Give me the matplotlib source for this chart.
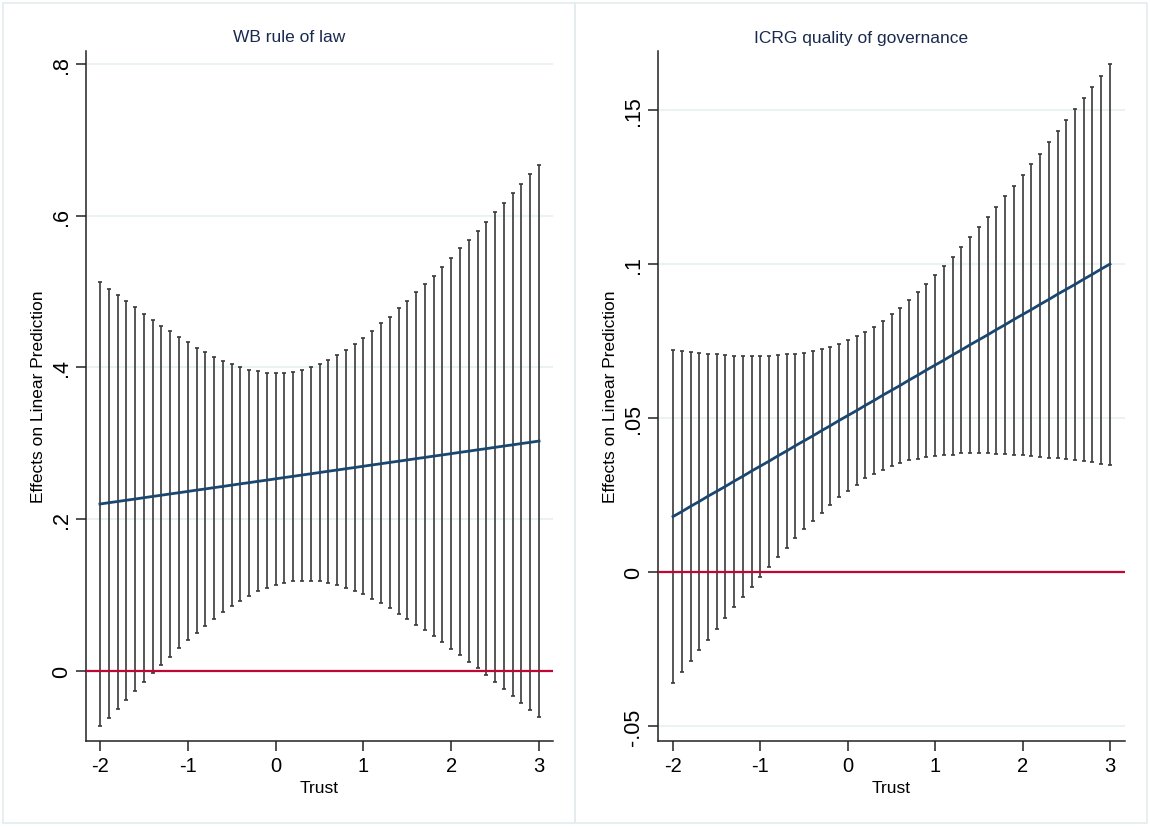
import numpy as np
import matplotlib
matplotlib.use("Agg")
from matplotlib import pyplot as plt
from matplotlib.patches import Rectangle

plt.rcParams['font.family'] = ['Liberation Sans', 'DejaVu Sans']

# trust values -2 .. 3 in steps of .1
trust = np.round(np.linspace(-2, 3, 51), 1)

# WB rule of law: point estimate and 95% CI
wb_est = [0.2200, 0.2217, 0.2233, 0.2250, 0.2266, 0.2283, 0.2300, 0.2316, 0.2333, 0.2349,
          0.2366, 0.2383, 0.2399, 0.2416, 0.2432, 0.2449, 0.2466, 0.2482, 0.2499, 0.2515,
          0.2532, 0.2549, 0.2565, 0.2582, 0.2598, 0.2615, 0.2632, 0.2648, 0.2665, 0.2681,
          0.2698, 0.2715, 0.2731, 0.2748, 0.2764, 0.2781, 0.2798, 0.2814, 0.2831, 0.2847,
          0.2864, 0.2881, 0.2897, 0.2914, 0.2930, 0.2947, 0.2964, 0.2980, 0.2997, 0.3013,
          0.3030]
wb_hi = [0.513, 0.504, 0.496, 0.487, 0.479, 0.471, 0.463, 0.455, 0.448, 0.440,
         0.433, 0.426, 0.420, 0.414, 0.409, 0.404, 0.400, 0.397, 0.395, 0.393,
         0.393, 0.393, 0.394, 0.397, 0.400, 0.405, 0.410, 0.416, 0.423, 0.431,
         0.439, 0.448, 0.458, 0.467, 0.478, 0.488, 0.499, 0.510, 0.521, 0.533,
         0.544, 0.557, 0.568, 0.580, 0.592, 0.605, 0.617, 0.630, 0.642, 0.655,
         0.667]
wb_lo = [-0.0730, -0.0615, -0.0497, -0.0378, -0.0260, -0.0145, -0.0026, 0.0083, 0.0189, 0.0299,
         0.0404, 0.0505, 0.0597, 0.0690, 0.0773, 0.0852, 0.0927, 0.0993, 0.1050, 0.1098,
         0.1138, 0.1164, 0.1182, 0.1190, 0.1190, 0.1182, 0.1164, 0.1138, 0.1098, 0.1058,
         0.1010, 0.0953, 0.0892, 0.0826, 0.0755, 0.0685, 0.0610, 0.0536, 0.0457, 0.0378,
         0.0294, 0.0211, 0.0123, 0.0036, -0.0053, -0.0141, -0.0233, -0.0325, -0.0418, -0.0510,
         -0.0602]

# ICRG quality of governance
icrg_est = [0.0180, 0.0196, 0.0213, 0.0229, 0.0246, 0.0262, 0.0278, 0.0295, 0.0311, 0.0328,
            0.0344, 0.0360, 0.0377, 0.0393, 0.0410, 0.0426, 0.0442, 0.0459, 0.0475, 0.0492,
            0.0508, 0.0524, 0.0541, 0.0557, 0.0574, 0.0590, 0.0606, 0.0623, 0.0639, 0.0656,
            0.0672, 0.0688, 0.0705, 0.0721, 0.0738, 0.0754, 0.0770, 0.0787, 0.0803, 0.0820,
            0.0836, 0.0852, 0.0869, 0.0885, 0.0902, 0.0918, 0.0934, 0.0951, 0.0967, 0.0984,
            0.1000]
icrg_hi = [0.0721, 0.0719, 0.0715, 0.0712, 0.0709, 0.0707, 0.0705, 0.0703, 0.0702, 0.0702,
           0.0702, 0.0703, 0.0706, 0.0707, 0.0709, 0.0712, 0.0718, 0.0724, 0.0732, 0.0740,
           0.0752, 0.0765, 0.0780, 0.0796, 0.0815, 0.0837, 0.0858, 0.0883, 0.0908, 0.0936,
           0.0965, 0.0994, 0.1024, 0.1055, 0.1087, 0.1119, 0.1153, 0.1186, 0.1221, 0.1254,
           0.1289, 0.1325, 0.1359, 0.1395, 0.1432, 0.1469, 0.1503, 0.1540, 0.1576, 0.1611,
           0.1650]
icrg_lo = [-0.0361, -0.0325, -0.0290, -0.0255, -0.0220, -0.0185, -0.0149, -0.0115, -0.0081, -0.0048,
           -0.0015, 0.0016, 0.0049, 0.0079, 0.0109, 0.0139, 0.0166, 0.0193, 0.0219, 0.0242,
           0.0264, 0.0282, 0.0304, 0.0319, 0.0331, 0.0343, 0.0354, 0.0363, 0.0368, 0.0373,
           0.0377, 0.0379, 0.0381, 0.0385, 0.0386, 0.0386, 0.0385, 0.0384, 0.0383, 0.0381,
           0.0379, 0.0377, 0.0374, 0.0371, 0.0369, 0.0366, 0.0364, 0.0360, 0.0356, 0.0352,
           0.0347]

x_ticks = [-2, -1, 0, 1, 2, 3]
wb_yticks = [0, 0.2, 0.4, 0.6, 0.8]
wb_ylabels = ['0', '.2', '.4', '.6', '.8']
icrg_yticks = [-0.05, 0, 0.05, 0.1, 0.15]
icrg_ylabels = ['-.05', '0', '.05', '.1', '.15']

navy = '#1a476f'
red = '#c10534'
grid_c = '#e8f0f0'
title_c = '#1a2a4f'

fig = plt.figure(figsize=(11.5, 8.28), dpi=100)

# panel frames (each graph sits in its own box, title centred on the box)
panel_x0 = [3 / 1150, 575 / 1150]
panel_w = 572 / 1150
for x0 in panel_x0:
    fig.patches.append(Rectangle((x0, 4 / 828), panel_w, 820 / 828, transform=fig.transFigure,
                                 fill=False, edgecolor='#e4ecee', lw=1.2))

ax1 = fig.add_axes([86 / 1150, 1 - 742 / 828, 467 / 1150, 690 / 828])
ax2 = fig.add_axes([658 / 1150, 1 - 742 / 828, 467 / 1150, 690 / 828])

panels = [
    (ax1, wb_est, wb_lo, wb_hi, 'WB rule of law', wb_yticks, wb_ylabels, (-2.159, 3.159), (-0.0923, 0.817)),
    (ax2, icrg_est, icrg_lo, icrg_hi, 'ICRG quality of governance', icrg_yticks, icrg_ylabels,
     (-2.172, 3.172), (-0.0549, 0.1692)),
]

for k, (ax, est, lo, hi, title, yt, yl, xlim, ylim) in enumerate(panels):
    est = np.array(est)
    lo = np.array(lo)
    hi = np.array(hi)
    for y in yt:
        ax.axhline(y, color=grid_c, lw=1.2, zorder=0)
    ax.errorbar(trust, est, yerr=[est - lo, hi - est], fmt='none', ecolor='#3a3a3a',
                elinewidth=1.2, capsize=1.7, capthick=1.2, zorder=2)
    ax.plot(trust, est, color=navy, lw=2, zorder=3)
    ax.axhline(0, color=red, lw=1.6, zorder=4)
    ax.set_xlim(*xlim)
    ax.set_ylim(*ylim)
    ax.set_xticks(x_ticks)
    ax.set_xticklabels([str(t) for t in x_ticks], fontsize=14.5)
    ax.set_yticks(yt)
    ax.set_yticklabels(yl, fontsize=15.5, rotation=90, va='center')
    ax.tick_params(axis='both', length=7, width=1.1, color='#222222')
    ax.tick_params(axis='y', pad=3)
    for s in ['top', 'right']:
        ax.spines[s].set_visible(False)
    for s in ['left', 'bottom']:
        ax.spines[s].set_linewidth(1.1)
        ax.spines[s].set_color('#222222')
    ax.set_xlabel('Trust', fontsize=12.5, labelpad=4)
    ax.set_ylabel('Effects on Linear Prediction', fontsize=12.5, labelpad=4)
    fig.text(panel_x0[k] + panel_w / 2, 1 - 38 / 828, title, fontsize=12.5, color=title_c,
             ha='center', va='center')

plt.savefig('out.png', dpi=100)
